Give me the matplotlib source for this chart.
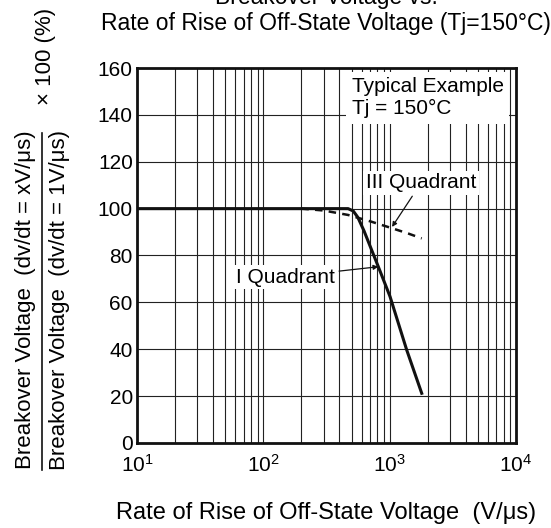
import numpy as np
import matplotlib
matplotlib.use('Agg')
import matplotlib.pyplot as plt
from matplotlib.ticker import LogLocator, NullFormatter
from matplotlib.lines import Line2D

plt.rcParams['font.family'] = ['Liberation Sans', 'DejaVu Sans']
plt.rcParams['mathtext.fontset'] = 'custom'
plt.rcParams['mathtext.rm'] = 'Liberation Sans'
plt.rcParams['mathtext.it'] = 'Liberation Sans'

# I quadrant (solid)
q1_x = [10, 100, 300, 469, 515, 560, 627, 721, 814, 1007, 1365, 1795]
q1_y = [100, 100, 100, 100, 99, 96.3, 90.5, 82.3, 75.2, 62.5, 39.7, 21.2]
# III quadrant (dashed)
q3_x = [200, 300, 469, 700, 1008, 1400, 1795]
q3_y = [100, 99.2, 97.3, 94.6, 91.9, 89.4, 87.3]

y_ticks = [0, 20, 40, 60, 80, 100, 120, 140, 160]
x_ticks = [10, 100, 1000, 10000]
x_ticklabels = ['10$^1$', '10$^2$', '10$^3$', '10$^4$']

FS = 15
LFS = 16.5

fig = plt.figure(figsize=(5.51, 5.28), dpi=100)
fig.patch.set_facecolor('white')
ax = fig.add_axes([0.2486, 0.161, 0.6878, 0.7102])

ax.set_xscale('log')
ax.set_xlim(10, 10000)
ax.set_ylim(0, 160)
ax.set_xticks(x_ticks)
ax.set_xticklabels(x_ticklabels)
ax.xaxis.set_minor_locator(LogLocator(base=10, subs=np.arange(2, 10)))
ax.xaxis.set_minor_formatter(NullFormatter())
ax.set_yticks(y_ticks)
ax.grid(True, which='both', axis='x', color='#222222', lw=0.8)
ax.grid(True, which='major', axis='y', color='#222222', lw=0.8)
ax.tick_params(axis='both', which='both', length=0, labelsize=FS)
ax.tick_params(axis='y', pad=3)
ax.tick_params(axis='x', pad=8)
for s in ax.spines.values():
    s.set_linewidth(2)
    s.set_color('#111111')

ax.plot(q1_x, q1_y, color='#111111', lw=2.2, zorder=5)
ax.plot(q3_x, q3_y, color='#111111', lw=1.8, ls=(0, (3, 2.5)), zorder=5)

box = dict(facecolor='white', edgecolor='none', pad=2)
ax.text(0.567, 0.975, 'Typical Example\nTj = 150\u00b0C', transform=ax.transAxes,
        ha='left', va='top', fontsize=FS, linespacing=1.2,
        bbox=dict(facecolor='white', edgecolor='none', pad=4), zorder=6)
ax.annotate('III Quadrant', xy=(1045, 92.2), xytext=(1775, 111),
            ha='center', va='center', fontsize=FS, bbox=box, zorder=6,
            arrowprops=dict(arrowstyle='-|>', color='#111111', lw=0.9,
                            mutation_scale=7, shrinkA=1, shrinkB=0))
ax.annotate('I Quadrant', xy=(814, 75.2), xytext=(150, 70.8),
            ha='center', va='center', fontsize=FS, bbox=box, zorder=6,
            arrowprops=dict(arrowstyle='-|>', color='#111111', lw=0.9,
                            mutation_scale=7, shrinkA=1, shrinkB=0))

ax.set_xlabel('Rate of Rise of Off-State Voltage  (V/\u03bcs)', fontsize=17, labelpad=19)

# title, first line partly cut off at the top
fig.text(0.592, 1.004, 'Breakover Voltage vs.', ha='center', va='center', fontsize=LFS)
fig.text(0.592, 0.956, 'Rate of Rise of Off-State Voltage (Tj=150\u00b0C)',
         ha='center', va='center', fontsize=LFS)

# y label as a fraction
fig.text(0.047, 0.432, 'Breakover Voltage  (dv/dt = xV/\u03bcs)', rotation=90,
         ha='center', va='center', fontsize=16)
fig.text(0.108, 0.432, 'Breakover Voltage  (dv/dt = 1V/\u03bcs)', rotation=90,
         ha='center', va='center', fontsize=16)
fig.add_artist(Line2D([0.077, 0.077], [0.11, 0.748], transform=fig.transFigure,
                      color='#111111', lw=1.2, clip_on=False, zorder=10))
fig.text(0.082, 0.894, '\u00d7 100 (%)', rotation=90, ha='center', va='center', fontsize=16)

plt.savefig('out.png', dpi=100, facecolor='white')
